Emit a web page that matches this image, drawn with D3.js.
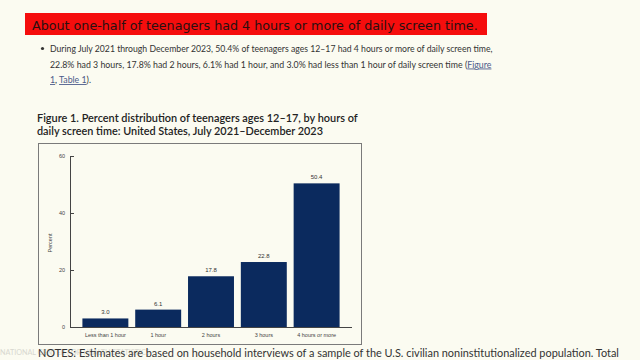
<!DOCTYPE html>
<html><head><meta charset="utf-8">
<script src="https://cdn.jsdelivr.net/npm/d3@7"></script>
<style>
html,body{margin:0;padding:0;background:#fbfbf1;}
svg{display:block;}
</style></head>
<body>
<svg id="c" width="640" height="360"></svg>
<script>
const categories = ["Less than 1 hour","1 hour","2 hours","3 hours","4 hours or more"];
const values = [3.0, 6.1, 17.8, 22.8, 50.4];
const valueLabels = ["3.0","6.1","17.8","22.8","50.4"];
const yTicks = [0, 20, 40, 60];

const svg = d3.select("#c");
svg.append("rect").attr("width",640).attr("height",360).attr("fill","#fbfbf1");

function fit(sel, w){
  const n = sel.node();
  const fs = parseFloat(sel.attr("font-size"));
  const m = n.getComputedTextLength();
  if (m>0) sel.attr("font-size", fs*w/m);
  return sel;
}

// Banner
svg.append("rect").attr("x",25).attr("y",13).attr("width",462).attr("height",22).attr("fill","#f50d0d");
fit(svg.append("text").attr("x",32).attr("y",29.5).attr("font-family","'DejaVu Sans'")
  .attr("font-size",14).attr("fill","#2a1010")
  .text("About one-half of teenagers had 4 hours or more of daily screen time."), 446);

// Bullet paragraph
const pf = "Lato, 'Open Sans', sans-serif";
svg.append("circle").attr("cx",42.5).attr("cy",48.5).attr("r",1.6).attr("fill","#333");
fit(svg.append("text").attr("x",50).attr("y",52).attr("font-family",pf).attr("font-size",10).attr("fill","#333")
  .text("During July 2021 through December 2023, 50.4% of teenagers ages 12–17 had 4 hours or more of daily screen time,"), 443);
const l2 = svg.append("text").attr("x",50).attr("y",67.5).attr("font-family",pf).attr("font-size",10).attr("fill","#333");
l2.append("tspan").text("22.8% had 3 hours, 17.8% had 2 hours, 6.1% had 1 hour, and 3.0% had less than 1 hour of daily screen time (");
l2.append("tspan").attr("fill","#4a5a8a").attr("text-decoration","underline").text("Figure");
fit(l2, 442);
const l3 = svg.append("text").attr("x",50).attr("y",83).attr("font-family",pf).attr("font-size",l2.attr("font-size")).attr("fill","#333");
l3.append("tspan").attr("fill","#4a5a8a").attr("text-decoration","underline").text("1");
l3.append("tspan").text(", ");
l3.append("tspan").attr("fill","#4a5a8a").attr("text-decoration","underline").text("Table 1");
l3.append("tspan").text(").");

// Figure title
fit(svg.append("text").attr("x",37).attr("y",122).attr("font-family",pf).attr("font-weight",600)
  .attr("font-size",10).attr("fill","#222")
  .text("Figure 1. Percent distribution of teenagers ages 12–17, by hours of"), 321);
fit(svg.append("text").attr("x",37).attr("y",135).attr("font-family",pf).attr("font-weight",600)
  .attr("font-size",10).attr("fill","#222")
  .text("daily screen time: United States, July 2021–December 2023"), 286);

// Chart box
svg.append("rect").attr("x",38.5).attr("y",143.5).attr("width",323).attr("height",201)
  .attr("fill","#fbfbf1").attr("stroke","#7a7a7a").attr("stroke-width",1);

const x = d3.scaleBand().domain(categories).range([70,352]).paddingInner(0.13).paddingOuter(0.235);
const y = d3.scaleLinear().domain([0,60]).range([327,156]);
const af = "'Liberation Sans', Arial, sans-serif";

svg.selectAll(".bar").data(values).enter().append("rect")
  .attr("x",(d,i)=>x(categories[i])).attr("width",x.bandwidth())
  .attr("y",d=>y(d)).attr("height",d=>y(0)-y(d)).attr("fill","#0b2a5e");

svg.selectAll(".vl").data(values).enter().append("text")
  .attr("x",(d,i)=>x(categories[i])+x.bandwidth()/2).attr("y",d=>y(d)-4)
  .attr("text-anchor","middle").attr("font-family",af).attr("font-size",6).attr("fill","#333")
  .text((d,i)=>valueLabels[i]);

// Y axis
const ya = svg.append("g").attr("transform","translate(70,0)")
  .call(d3.axisRight(y).tickValues(yTicks).tickSize(4).tickFormat(d3.format("d")));
ya.select(".domain").attr("stroke","#444").attr("d","M4,156.5H0.5V327");
ya.selectAll(".tick line").attr("stroke","#444");
ya.selectAll(".tick text").attr("x",-5).attr("text-anchor","end").attr("font-family",af)
  .attr("font-size",5.5).attr("fill","#444");

// X axis
const xa = svg.append("g").attr("transform","translate(0,327)")
  .call(d3.axisBottom(x).tickSize(0));
xa.select(".domain").attr("stroke","#444").attr("d","M70,0.5H352");
xa.selectAll(".tick text").attr("y",6).attr("font-family",af).attr("font-size",5.5).attr("fill","#444");

svg.append("text").attr("transform","translate(52,243) rotate(-90)").attr("text-anchor","middle")
  .attr("font-family",af).attr("font-size",5.5).attr("fill","#444").text("Percent");

// Watermark and notes
fit(svg.append("text").attr("x",0).attr("y",355).attr("font-family",pf).attr("font-size",8).attr("fill","#d8d8d0")
  .text("NATIONAL CENTER FOR HEALTH STATISTICS"), 150);
fit(svg.append("text").attr("x",38).attr("y",356.5).attr("font-family",pf).attr("font-size",10.5).attr("fill","#333")
  .text("NOTES: Estimates are based on household interviews of a sample of the U.S. civilian noninstitutionalized population. Total"), 582);
</script>
</body></html>
